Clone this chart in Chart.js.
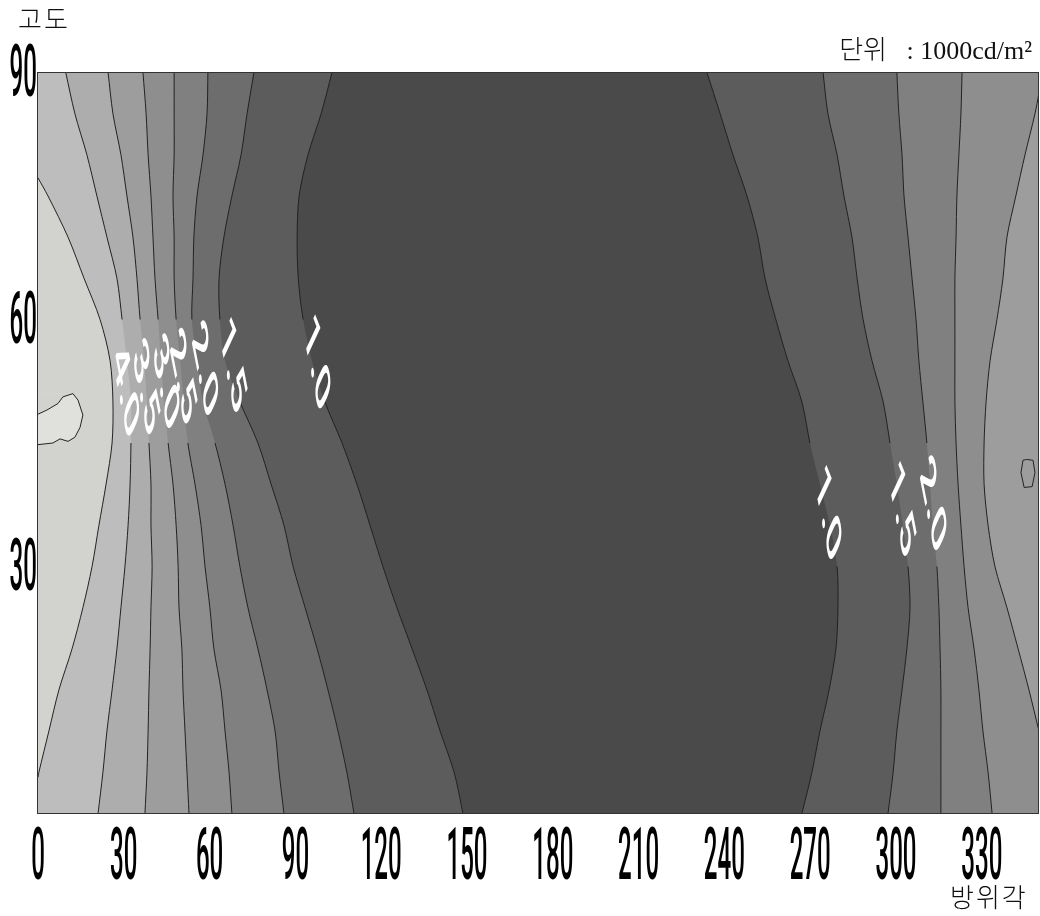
<!DOCTYPE html>
<html lang="ko">
<head>
<meta charset="utf-8">
<style>html,body{margin:0;padding:0;background:#fff}canvas{display:block}</style>
<script src="https://cdn.jsdelivr.net/npm/chart.js@4/dist/chart.umd.min.js"></script>
</head>
<body>
<canvas id="c" width="1040" height="916"></canvas>
<script>
// Tick labels
const azimuthTicks = [0, 30, 60, 90, 120, 150, 180, 210, 240, 270, 300, 330];
const elevationTicks = [30, 60, 90];
// Elevations at which the contours were read (deg)
const elev = [90, 85, 80, 75, 70, 65, 60, 55, 50, 45, 40, 35, 30, 25, 20, 15, 10, 5, 0];
// Left-hand contours: azimuth (deg) at each elevation of `elev`
const c10L = [102.8, 99, 94.4, 91.3, 90.6, 91, 92.7, 95.8, 100.3, 106.3, 111.5, 116.1, 120.6, 125.5, 130.8, 136, 140.6, 145.5, 148.6];
const c15L = [75.5, 73.1, 71, 67.8, 65, 63.3, 63.6, 65.4, 70.6, 76.9, 81.5, 86, 89.2, 93.4, 97.6, 101.4, 104.9, 108, 110.5];
const c20L = [59.4, 59.1, 57.7, 55.6, 54.5, 54.2, 53.8, 55.6, 57.7, 61.9, 65.4, 68.2, 70.6, 73.4, 76.9, 80.1, 82.9, 84.3, 86];
const c25L = [47.6, 47.6, 47.6, 47.2, 47.6, 47.6, 48.3, 49.7, 51, 52.4, 54.9, 57, 58.4, 60.1, 61.5, 64, 65.4, 66.8, 67.8];
const c30L = [36.7, 37.8, 38.5, 39.5, 40.2, 40.9, 42, 43, 44.1, 45.5, 47.2, 48.3, 49, 49.3, 50.3, 50.7, 51.4, 52.1, 52.8];
const c35L = [24.5, 26.2, 29, 31.1, 33.2, 34.6, 35.7, 37.1, 38.1, 38.8, 39.5, 39.5, 39.9, 39.5, 39.2, 38.8, 38.5, 38.1, 37.4];
const c40L = [9.7, 12.9, 17.1, 20.6, 24.1, 27.6, 29.4, 31.1, 32.5, 32.5, 32.2, 31.5, 30.4, 29, 27.6, 25.9, 24.1, 22.7, 21];
const c45Elev = [77.2, 75, 70, 65, 60, 55, 50, 45, 40, 35, 30, 25, 20, 15, 10, 5, 4.4];
const c45Az = [0, 3.5, 10.5, 16.1, 21.7, 25.2, 26.2, 25.9, 23.8, 21.3, 18.9, 15.7, 11.9, 7.3, 3.8, 0.3, 0];
// Closed patch at the left edge
const peakRightAz = [12.2, 14, 15.7, 14.7, 12.9, 10.5, 7.7, 5.2, 0];
const peakRightEl = [51, 50.2, 48.4, 46.9, 45.7, 45.2, 45.5, 45, 44.8];
const peakTopAz = [12.2, 8.7, 7, 3.1, 0];
const peakTopEl = [51, 50.6, 49.8, 49, 48.5];
// Right-hand contours
const c10R = [233.9, 238.5, 243, 247.9, 251.7, 254.2, 258, 262.2, 267.1, 269.9, 273.4, 276.9, 279.4, 279.7, 279, 276.6, 273.4, 270.6, 267.1];
const c15R = [274.5, 276.2, 279.4, 281.8, 284.6, 286.4, 288.5, 291.6, 295.5, 297.9, 300.3, 302.4, 304.2, 304.9, 303.8, 302.1, 300.3, 299, 297.2];
const c20R = [300.3, 301, 302.1, 302.8, 304.2, 305.6, 307, 308, 309.4, 310.8, 311.9, 312.9, 314.3, 315, 315.4, 315.7, 315.7, 315.7, 315.7];
const c25R = [323.1, 322.7, 322, 321.3, 321, 320.6, 320.6, 320.6, 320.6, 321, 321.7, 322.7, 323.8, 325.2, 327.3, 329, 330.4, 332.2, 333.6];
const c30Elev = [87.5, 85, 80, 75, 70, 65, 60, 55, 50, 45, 40, 35, 30, 25, 20, 15, 10];
const c30Az = [350, 348.6, 345.1, 341.9, 338.8, 337.4, 335.3, 332.9, 331.5, 330.8, 330.8, 332.2, 334.6, 338.8, 342.7, 346.5, 350];
const ringAz = [345.7, 347.9, 348.6, 347.6, 344.8, 343.7, 344.4, 345.7];
const ringEl = [43, 42.9, 41.4, 39.7, 39.6, 41.4, 42.9, 43];
// Contour labels
const labelTexts = ['1.0', '1.5', '2.0', '2.5', '3.0', '3.5', '4.0', '1.0', '1.5', '2.0'];
const labelAz = [97.2, 67.8, 58, 50.3, 44.4, 37.4, 30.4, 275.9, 301.7, 312.6];
const labelEl = [54.4, 54.1, 53.6, 52.7, 52, 51.4, 51.1, 36.1, 36.6, 37.2];

const zip = (az, el) => az.map((a, i) => ({x: a, y: el[i]}));
const LINE = '#222222';
const SMOOTH = 0.3;
function fillSet(az, el, color, side, tension = SMOOTH) {
  return {data: zip(az, el), borderWidth: 0, pointRadius: 0, tension, backgroundColor: color,
          fill: {value: side === 'L' ? 0 : 350}};
}
function lineSet(az, el, gap, tension = SMOOTH) {
  return {data: zip(az, el), borderColor: LINE, borderWidth: 1, pointRadius: 0, tension, fill: false,
          segment: gap ? {borderColor: c => (c.p0.parsed.y <= gap[0] && c.p0.parsed.y > gap[1]) ? 'rgba(0,0,0,0)' : LINE} : undefined};
}
const painted = [
  fillSet(c10L, elev, '#5c5c5c', 'L'), fillSet(c15L, elev, '#6d6d6d', 'L'), fillSet(c20L, elev, '#808080', 'L'),
  fillSet(c25L, elev, '#8e8e8e', 'L'), fillSet(c30L, elev, '#9d9d9d', 'L'), fillSet(c35L, elev, '#adadad', 'L'),
  fillSet(c40L, elev, '#bdbdbd', 'L'), fillSet(c45Az, c45Elev, '#d2d3ce', 'L'),
  fillSet(peakRightAz, peakRightEl, '#e0e1dd', 'L', 0), fillSet(peakTopAz, peakTopEl, '#d2d3ce', 'L', 0),
  fillSet(c10R, elev, '#5c5c5c', 'R'), fillSet(c15R, elev, '#6d6d6d', 'R'), fillSet(c20R, elev, '#808080', 'R'),
  fillSet(c25R, elev, '#8e8e8e', 'R'), fillSet(c30Az, c30Elev, '#9d9d9d', 'R'),
  lineSet(c10L, elev, [60, 50]), lineSet(c15L, elev, [60, 50]), lineSet(c20L, elev, [60, 45]), lineSet(c25L, elev, [60, 45]),
  lineSet(c30L, elev, [60, 45]), lineSet(c35L, elev, [60, 45]), lineSet(c40L, elev, [60, 45]), lineSet(c45Az, c45Elev),
  lineSet(peakRightAz, peakRightEl, null, 0), lineSet(peakTopAz, peakTopEl, null, 0),
  lineSet(c10R, elev, [45, 30]), lineSet(c15R, elev, [45, 30]), lineSet(c20R, elev, [45, 30]), lineSet(c25R, elev),
  lineSet(c30Az, c30Elev), lineSet(ringAz, ringEl, null, 0)
];

const TICK_SQUEEZE = 0.33;
function squeezeLabels(scale) {
  if (scale._squeezed) return;
  scale._squeezed = true;
  const base = scale.drawLabels;
  scale.drawLabels = function (area) {
    const ctx = this.ctx, orig = ctx.fillText;
    ctx.fillText = function (t, x, y) {
      ctx.save(); ctx.scale(TICK_SQUEEZE, 1); orig.call(ctx, t, x / TICK_SQUEEZE, y); ctx.restore();
    };
    base.call(this, area);
    delete ctx.fillText;
  };
}
const decor = {
  id: 'decor',
  afterLayout(chart) { squeezeLabels(chart.scales.x); squeezeLabels(chart.scales.y); },
  beforeDatasetsDraw(chart) {
    const {ctx, chartArea: a} = chart;
    ctx.save(); ctx.fillStyle = '#4a4a4a'; ctx.fillRect(a.left, a.top, a.width, a.height); ctx.restore();
  },
  afterDatasetsDraw(chart) {
    const {ctx, chartArea: a, scales: {x, y}} = chart;
    ctx.save();
    ctx.fillStyle = '#fff';
    ctx.font = '500 71px Roboto';
    ctx.textAlign = 'center';
    ctx.textBaseline = 'middle';
    labelTexts.forEach((t, i) => {
      ctx.save();
      ctx.translate(x.getPixelForValue(labelAz[i]), y.getPixelForValue(labelEl[i]));
      ctx.scale(0.30, 1);
      ctx.rotate(57 * Math.PI / 180);
      ctx.fillText(t, 0, 0);
      ctx.restore();
    });
    ctx.strokeStyle = '#333';
    ctx.lineWidth = 1;
    ctx.strokeRect(a.left - 0.5, a.top, a.width, a.height);
    ctx.fillStyle = '#111';
    ctx.textBaseline = 'alphabetic';
    ctx.textAlign = 'left';
    ctx.font = '300 26px "Liberation Serif","Noto Sans CJK KR"';
    ctx.letterSpacing = '2px';
    ctx.fillText('고도', 18, 29);
    ctx.fillText('방위각', 950, 907);
    ctx.letterSpacing = '0px';
    ctx.textAlign = 'right';
    ctx.fillText('단위   : 1000cd/m²', 1032, 59);
    ctx.restore();
  }
};
const tickFont = {family: 'Roboto', size: 73, weight: '500'};
new Chart(document.getElementById('c'), {
  type: 'line',
  data: {datasets: painted.reverse()},
  options: {
    responsive: false, animation: false, indexAxis: 'y',
    layout: {padding: {top: 72.5, right: 1, left: 0, bottom: 0}},
    plugins: {legend: {display: false}, tooltip: {enabled: false}, title: {display: false}},
    scales: {
      x: {type: 'linear', min: 0, max: 350, grid: {display: false, drawTicks: false}, border: {display: false},
          afterBuildTicks: s => { s.ticks = azimuthTicks.map(v => ({value: v})); },
          afterFit: s => { s.height = 102.5; s.paddingLeft = 0; s.paddingRight = 0; },
          ticks: {color: '#000', font: tickFont, padding: 3, autoSkip: false, maxRotation: 0, minRotation: 0}},
      y: {type: 'linear', min: 0, max: 90, grid: {display: false, drawTicks: false}, border: {display: false},
          afterBuildTicks: s => { s.ticks = elevationTicks.map(v => ({value: v})); },
          afterFit: s => { s.width = 38; s.paddingTop = 0; s.paddingBottom = 0; },
          ticks: {color: '#000', font: tickFont, padding: 1, autoSkip: false, labelOffset: 5}}
    }
  },
  plugins: [decor]
});
</script>
</body>
</html>
